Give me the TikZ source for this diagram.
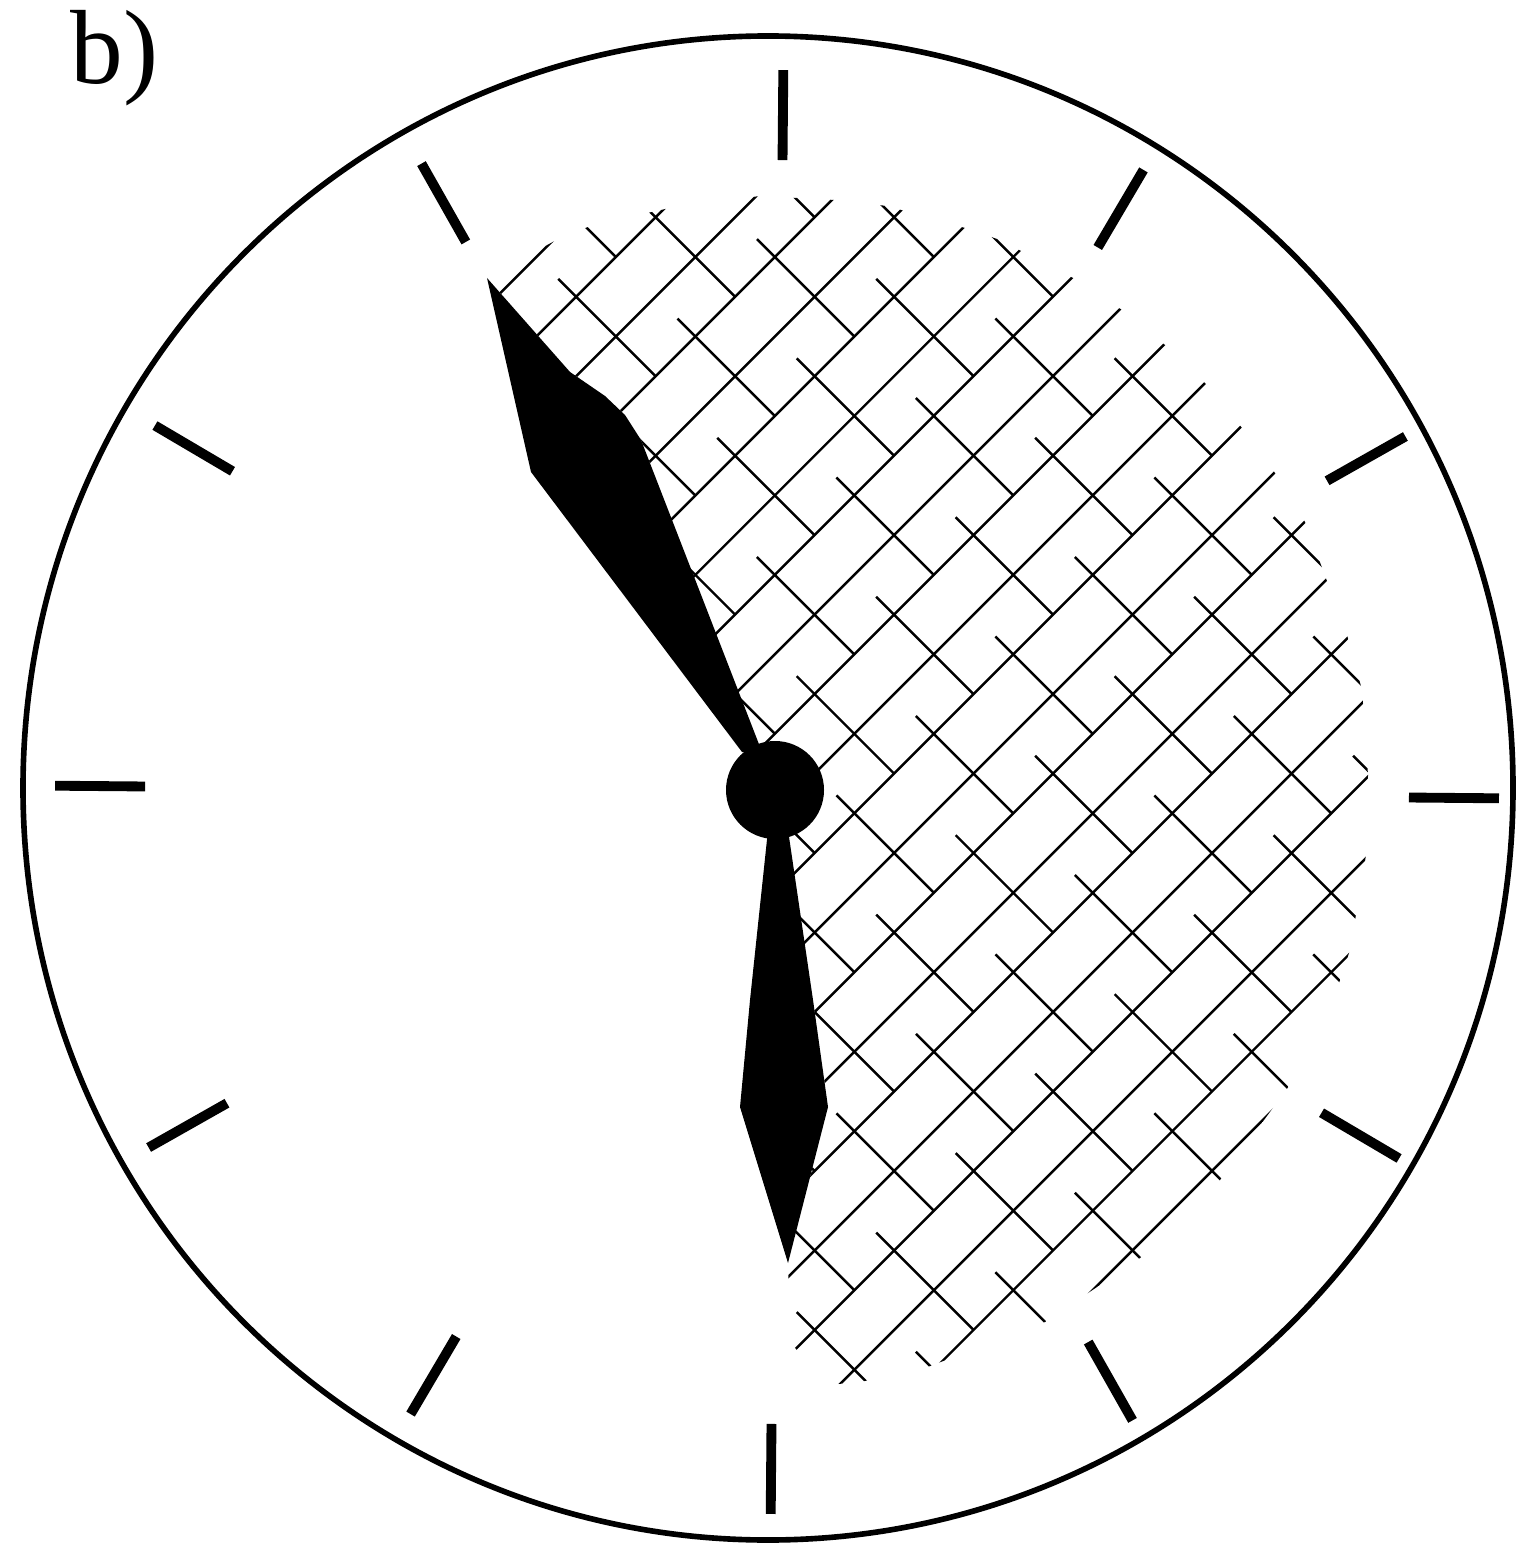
\documentclass[tikz,border=0pt]{standalone}
\usepackage{fontspec}
\setmainfont{Liberation Serif}

\begin{document}
\begin{tikzpicture}[x=0.1mm, y=-0.1mm]
  \tikzset{
    hatchline/.style={line width=0.7pt},
    tickmark/.style={line width=2.8pt},
    dial/.style={line width=1.6pt}
  }
  \useasboundingbox (0,0) rectangle (1515,1544);
  % \draw[help lines, gray!50, very thin] (0,0) grid[step=100] (1515,1544);

  \node[anchor=base west, inner sep=0pt, font=\fontsize{30}{30}\selectfont] (lbl) at (70,84) {b)};

  % dial and hour marks
  \draw[dial] (768,788) ellipse [x radius=745, y radius=752];
  \foreach \k in {0,...,11} {
    \pgfmathsetmacro\ang{89.5-30*\k}
    \draw[tickmark] ({777+632*cos(\ang)},{792-632*sin(\ang)}) -- ({777+722*cos(\ang)},{792-722*sin(\ang)});
  }

  % hatched sector
  \begin{scope}
    \clip (487,278) -- (560,238) -- (593,225) -- (670,208) -- (760,196) -- (835,200)
      -- (887,206) -- (965,228) -- (1000,240) -- (1073,278) -- (1122,310) -- (1165,345)
      -- (1207,385) -- (1242,428) -- (1275,473) -- (1305,522) -- (1347,635) -- (1362,690)
      -- (1368,775) -- (1366,855) -- (1350,950) -- (1330,1010) -- (1297,1075) -- (1220,1180)
      -- (1140,1258) -- (1045,1322) -- (925,1368) -- (860,1382) -- (827,1385) -- (790,1342)
      -- (788,1262) -- (828,1107) -- (813,1000) -- (786,843) -- (775,790) -- (757,745)
      -- (641,440) -- (625,415) -- (605,396) -- (570,372) -- cycle;
    \foreach \k in {-1,...,22} {
      \pgfmathsetmacro\nval{561+\k*56.2}
      \draw[hatchline] ({(\nval-700)/sqrt(2)},{(\nval+700)/sqrt(2)}) -- ({(\nval+800)/sqrt(2)},{(\nval-800)/sqrt(2)});
    }
    \foreach \j in {-14,...,6} {
      \pgfmathsetmacro\tp{310+\j*56.2}
      \pgfmathtruncatemacro\ph{mod(\j+100,2)==0 ? 1 : 3}
      \foreach \m in {-1,...,6} {
        \pgfmathsetmacro\nlo{561+(4*\m+\ph-0.45)*56.2}
        \pgfmathsetmacro\nhi{561+(4*\m+\ph+2)*56.2}
        \draw[hatchline] ({(\nlo+\tp)/sqrt(2)},{(\nlo-\tp)/sqrt(2)}) -- ({(\nhi+\tp)/sqrt(2)},{(\nhi-\tp)/sqrt(2)});
      }
    }
  \end{scope}

  % hands
  \fill (487,278) -- (570,372) -- (605,396) -- (625,415) -- (641,440) -- (762,752) -- (742,752) -- (531,472) -- cycle;
  \fill (768,830) -- (750,1000) -- (740,1107) -- (788,1263) -- (828,1107) -- (813,1000) -- (788,830) -- cycle;
  \fill (775,790) circle (49);
\end{tikzpicture}
\end{document}
